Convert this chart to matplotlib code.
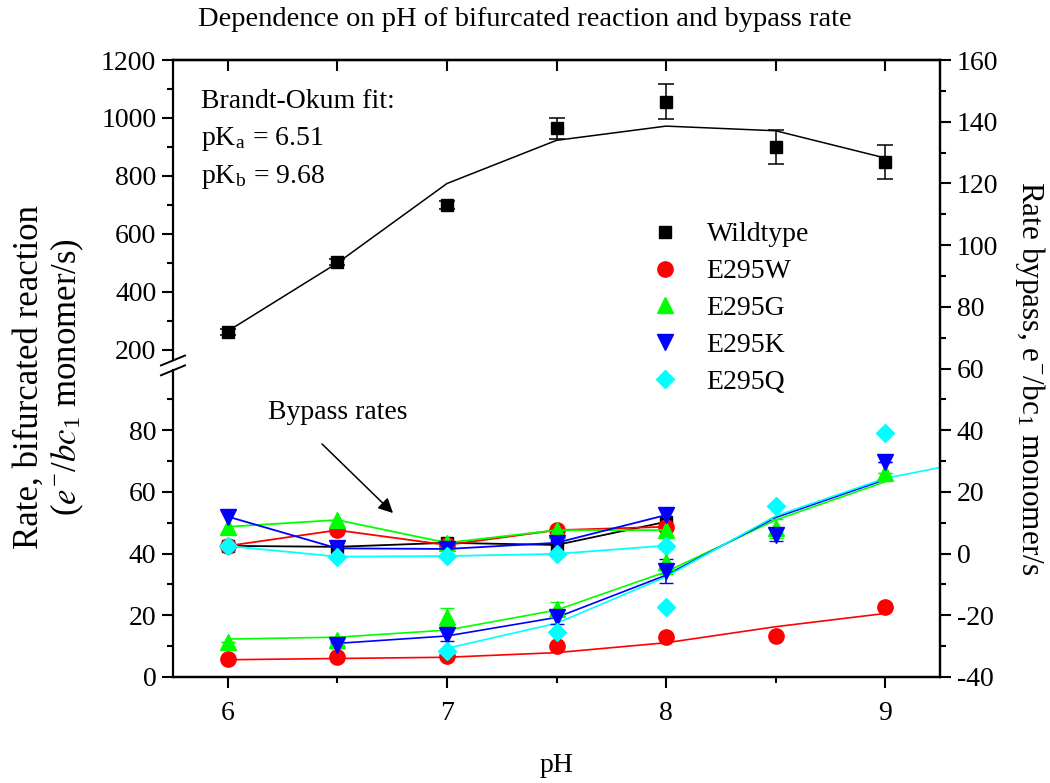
import matplotlib
matplotlib.use('Agg')
import matplotlib.pyplot as plt
from matplotlib.lines import Line2D
import numpy as np

plt.rcParams['font.family'] = ['Liberation Serif', 'DejaVu Serif']
plt.rcParams['mathtext.fontset'] = 'stix'
plt.rcParams['font.size'] = 20
plt.rcParams['axes.unicode_minus'] = False

# ---------------- data ----------------
ph = [6, 6.5, 7, 7.5, 8, 8.5, 9]

wt_rate = [262, 504, 700, 965, 1056, 901, 849]
wt_err = [12, 10, 14, 36, 60, 58, 58]
wt_fit = [265, 500, 774, 923, 972, 956, 862]

ph_bypass = [6, 6.5, 7, 7.5, 8]
wt_bypass = [2.5, 2.2, 3.5, 2.8, 10.3]
w_bypass = [2.5, 7.6, 2.8, 7.6, 8.7]
g_bypass = [8.7, 10.9, 3.5, 7.6, 7.6]
k_bypass = [12.0, 1.7, 1.5, 3.5, 12.5]
q_bypass = [2.5, -1.0, -0.8, -0.1, 2.6]

w_rate = [5.7, 6.6, 6.8, 10.0, 12.9, 13.3, 22.8]
w_fit = [5.6, 6.0, 6.4, 7.9, 11.1, 16.3, 20.6]
g_rate = [11.4, 12.0, 19.5, 22.2, 37.4, 48.2, 66.2]
g_err = [0, 1, 3, 2, 4, 3, 0]
g_fit = [12.3, 12.9, 15.2, 21.7, 34.1, 50.9, 63.3]
ph_k = [6.5, 7, 7.5, 8, 8.5, 9]
k_rate = [10.4, 13.6, 19.3, 34.4, 46.0, 69.8]
k_err = [1, 2, 2, 4, 2, 0]
k_fit = [10.9, 13.3, 19.3, 33.0, 51.7, 64.0]
ph_q = [7, 7.5, 8, 8.5, 9]
q_rate = [8.5, 14.7, 22.8, 55.4, 79.0]
ph_q_fit = [7, 7.5, 8, 8.5, 9, 9.25]
q_fit = [9.3, 17.4, 32.5, 52.2, 64.4, 67.9]

left_low_major = [0, 20, 40, 60, 80]
left_low_minor = [10, 30, 50, 70, 90]
left_up_major = [200, 400, 600, 800, 1000, 1200]
left_up_minor = [300, 500, 700, 900, 1100]
right_major = [-40, -20, 0, 20, 40, 60, 80, 100, 120, 140, 160]
right_minor = [-30, -10, 10, 30, 50, 70, 90, 110, 130, 150]
x_major = [6, 7, 8, 9]
x_minor = [6.5, 7.5, 8.5]


# broken left axis -> right-axis units
def low(v):
    return np.asarray(v, float) - 40.0


def up(v):
    return 66.0 + (np.asarray(v, float) - 200.0) * 0.094


W, H = 1050, 783
fig = plt.figure(figsize=(W / 100, H / 100), dpi=100)
Lp, Rp, Bp, Tp = 173, 940, 677, 60
ax = fig.add_axes([Lp / W, 1 - Bp / H, (Rp - Lp) / W, (Bp - Tp) / H])
ax.set_xlim(5.75, 9.25)
ax.set_ylim(-40, 160)

lw_sp = 1.6
for s in ax.spines.values():
    s.set_linewidth(lw_sp)
ax.spines['left'].set_visible(False)

# left spine with break
brk = 61.0
gap = 1.6
tr = ax.get_yaxis_transform()
ax.plot([0, 0], [-40, brk - gap], color='k', lw=lw_sp, transform=tr, clip_on=False, zorder=5)
ax.plot([0, 0], [brk + gap, 160], color='k', lw=lw_sp, transform=tr, clip_on=False, zorder=5)
dx = 12 / (Rp - Lp)
for c in (brk - gap, brk + gap):
    ax.plot([-dx, dx], [c - 1.6, c + 1.6], color='k', lw=1.4, transform=tr, clip_on=False, zorder=5)

# left ticks
ax.set_yticks(list(low(left_low_major)) + list(up(left_up_major)))
ax.set_yticklabels([str(v) for v in left_low_major + left_up_major])
ax.set_yticks(list(low(left_low_minor)) + list(up(left_up_minor)), minor=True)
ax.set_xticks(x_major)
ax.set_xticks(x_minor, minor=True)
ax.set_xticklabels([str(v) for v in x_major])
ax.tick_params(which='major', direction='out', length=8, width=1.5, labelsize=20)
ax.tick_params(which='minor', direction='out', length=4.5, width=1.5)
ax.tick_params(axis='y', pad=4)
ax.tick_params(axis='x', pad=9)

top = ax.secondary_xaxis('top')
top.set_xticks(x_major + x_minor)
top.tick_params(direction='in', length=8, width=1.5, labeltop=False)
top.spines['top'].set_linewidth(lw_sp)

axr = ax.twinx()
axr.set_ylim(-40, 160)
axr.set_yticks(right_major)
axr.set_yticks(right_minor, minor=True)
axr.tick_params(which='major', direction='out', length=8, width=1.5, labelsize=20, pad=4)
axr.tick_params(which='minor', direction='out', length=4.5, width=1.5)
for s in axr.spines.values():
    s.set_linewidth(lw_sp)
axr.spines['left'].set_visible(False)

ms = 11
# wildtype
ax.plot(ph, up(wt_fit), color='k', lw=1.1, zorder=2)
wt_y = up(wt_rate)
wt_e = np.asarray(wt_err) * 0.094
ax.errorbar(ph, wt_y, yerr=wt_e, fmt='none', ecolor='k', elinewidth=1.1, capsize=6, capthick=1.1, zorder=3)
ax.plot(ph, wt_y, 's', color='k', ms=9, zorder=4)

# fitted curves, bifurcated rates of mutants
ax.plot(ph, low(w_fit), color='red', lw=1.2, zorder=2)
ax.plot(ph, low(g_fit), color='#00ff00', lw=1.2, zorder=2)
ax.plot(ph_k, low(k_fit), color='blue', lw=1.2, zorder=2)
ax.plot(ph_q_fit, low(q_fit), color='cyan', lw=1.2, zorder=2)

ax.errorbar(ph, low(g_rate), yerr=g_err, fmt='none', ecolor='#00ff00', elinewidth=1.1, capsize=5, zorder=3)
ax.errorbar(ph_k, low(k_rate), yerr=k_err, fmt='none', ecolor='blue', elinewidth=1.1, capsize=5, zorder=3)

ax.plot(ph, low(w_rate), 'o', color='red', ms=ms, zorder=4)
ax.plot(ph, low(g_rate), '^', color='#00ff00', ms=ms, zorder=4)
ax.plot(ph_k, low(k_rate), 'v', color='blue', ms=ms, zorder=4)
ax.plot(ph_q, low(q_rate), 'D', color='cyan', ms=9.5, zorder=4)

# bypass rates (right axis units)
ax.plot(ph_bypass, wt_bypass, 's-', color='k', ms=9, lw=1.3, zorder=3)
ax.plot(ph_bypass, w_bypass, 'o-', color='red', ms=ms, lw=1.3, zorder=3)
ax.plot(ph_bypass, g_bypass, '^-', color='#00ff00', ms=ms, lw=1.3, zorder=3)
ax.plot(ph_bypass, k_bypass, 'v-', color='blue', ms=ms, lw=1.3, zorder=3)
ax.plot(ph_bypass, q_bypass, 'D-', color='cyan', ms=9.5, lw=1.3, zorder=3)

# legend
handles = [
    Line2D([], [], ls='none', marker='s', color='k', ms=9),
    Line2D([], [], ls='none', marker='o', color='red', ms=ms),
    Line2D([], [], ls='none', marker='^', color='#00ff00', ms=ms),
    Line2D([], [], ls='none', marker='v', color='blue', ms=ms),
    Line2D([], [], ls='none', marker='D', color='cyan', ms=9.5),
]
labels = ['Wildtype', 'E295W', 'E295G', 'E295K', 'E295Q']
fig.legend(handles, labels, loc='upper left', bbox_to_anchor=(644 / W, 1 - 222 / H),
           bbox_transform=fig.transFigure, frameon=False, borderpad=0, borderaxespad=0,
           handlelength=1.5, handletextpad=0.75, labelspacing=0.41, fontsize=20)


def ftext(x, y, s, **kw):
    fig.text(x / W, 1 - y / H, s, **kw)


ftext(525, 20, 'Dependence on pH of bifurcated reaction and bypass rate', ha='center', va='center', fontsize=20.5)
ftext(201, 108, 'Brandt-Okum fit:', ha='left', va='baseline', fontsize=20)
ftext(201, 145, r'pK$_\mathregular{a}$ = 6.51', ha='left', va='baseline', fontsize=20)
ftext(201, 183, r'pK$_\mathregular{b}$ = 9.68', ha='left', va='baseline', fontsize=20)
ftext(268, 419, 'Bypass rates', ha='left', va='baseline', fontsize=20)
ax.annotate('', xy=(395 / W, 1 - 515 / H), xytext=(320 / W, 1 - 442 / H),
            xycoords='figure fraction', textcoords='figure fraction',
            arrowprops=dict(arrowstyle='-|>', color='k', lw=1.1, mutation_scale=22))

ftext(29, 377, 'Rate, bifurcated reaction', rotation=90, ha='center', va='center', fontsize=25)
ftext(67, 377, r'($\it{e}^{\mathregular{-}}$/$\it{bc}_{\mathregular{1}}$ monomer/s)', rotation=90,
      ha='center', va='center', fontsize=25)
ftext(1030, 378, r'Rate bypass, e$^{\mathregular{-}}$/bc$_{\mathregular{1}}$ monomer/s', rotation=270,
      ha='center', va='center', fontsize=22.5)
ftext(557, 765, 'pH', ha='center', va='center', fontsize=20)

fig.savefig('out.png', dpi=100)
